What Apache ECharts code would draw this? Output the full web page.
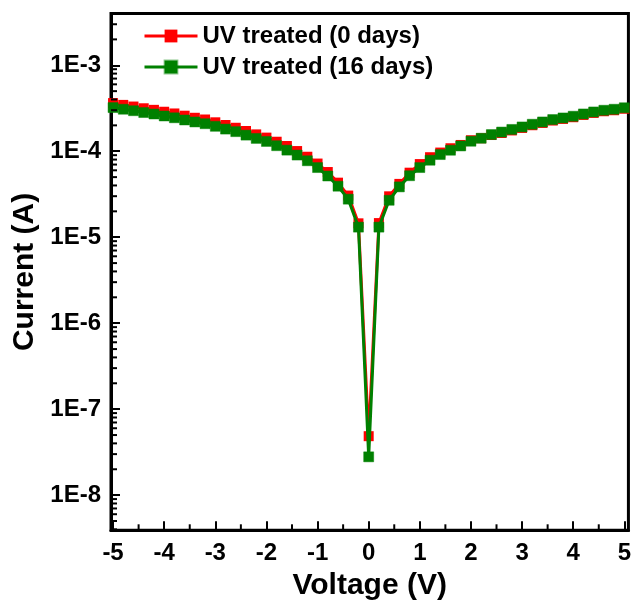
<!DOCTYPE html>
<html><head><meta charset="utf-8">
<script src="https://cdn.jsdelivr.net/npm/echarts@6/dist/echarts.min.js"></script>
<style>html,body{margin:0;padding:0;background:#fff}#c{width:634px;height:608px}</style>
</head><body><div id="c"></div>
<script>
const seriesNames = ['UV treated (0 days)', 'UV treated (16 days)'];
const voltage = [-5,-4.8,-4.6,-4.4,-4.2,-4,-3.8,-3.6,-3.4,-3.2,-3,-2.8,-2.6,-2.4,-2.2,-2,-1.8,-1.6,-1.4,-1.2,-1,-0.8,-0.6,-0.4,-0.2,0,0.2,0.4,0.6,0.8,1,1.2,1.4,1.6,1.8,2,2.2,2.4,2.6,2.8,3,3.2,3.4,3.6,3.8,4,4.2,4.4,4.6,4.8,5];
const current0 = [3.63e-4,3.46e-4,3.31e-4,3.16e-4,3.03e-4,2.88e-4,2.75e-4,2.59e-4,2.45e-4,2.34e-4,2.17e-4,2.02e-4,1.875e-4,1.72e-4,1.57e-4,1.44e-4,1.29e-4,1.15e-4,1.005e-4,8.63e-5,7.19e-5,5.73e-5,4.31e-5,3.05e-5,1.45e-5,
  4.85e-8,
  1.46e-5,2.99e-5,4.17e-5,5.63e-5,7.09e-5,8.52e-5,9.65e-5,1.083e-4,1.183e-4,1.342e-4,1.416e-4,1.544e-4,1.629e-4,1.746e-4,1.867e-4,2.007e-4,2.134e-4,2.276e-4,2.376e-4,2.487e-4,2.644e-4,2.79e-4,2.919e-4,2.998e-4,3.122e-4];
const current16 = [3.22e-4,3.08e-4,2.96e-4,2.82e-4,2.71e-4,2.57e-4,2.45e-4,2.31e-4,2.19e-4,2.09e-4,1.95e-4,1.81e-4,1.69e-4,1.54e-4,1.41e-4,1.30e-4,1.16e-4,1.03e-4,9.03e-5,7.75e-5,6.46e-5,5.15e-5,3.92e-5,2.77e-5,1.31e-5,
  2.79e-8,
  1.31e-5,2.69e-5,3.85e-5,5.19e-5,6.46e-5,7.86e-5,9.15e-5,1.027e-4,1.152e-4,1.307e-4,1.416e-4,1.564e-4,1.672e-4,1.793e-4,1.917e-4,2.061e-4,2.191e-4,2.337e-4,2.439e-4,2.553e-4,2.715e-4,2.864e-4,2.997e-4,3.078e-4,3.205e-4];
const xTicks = [-5,-4,-3,-2,-1,0,1,2,3,4,5];
const xMinorTicks = [-4.5,-3.5,-2.5,-1.5,-0.5,0.5,1.5,2.5,3.5,4.5];
const yTicks = [1e-8,1e-7,1e-6,1e-5,1e-4,1e-3];
const yMinorMult = [2,3,4,5,6,7,8,9];
const yMinorTicks = [];
[1e-9,1e-8,1e-7,1e-6,1e-5,1e-4,1e-3].forEach(d => yMinorMult.forEach(m => yMinorTicks.push(m * d)));

const FONT = 'Liberation Sans, Arial, sans-serif';
const chart = echarts.init(document.getElementById('c'), null, {renderer: 'canvas'});
const yFmt = v => '1E' + Math.round(Math.log10(v));
const X_MIN = -5.04, X_MAX = 5.08, Y_MIN = 3.9e-9, Y_MAX = 4e-3;

const option = {
  backgroundColor: '#fff',
  animation: false,
  grid: {left: 111, right: 3, top: 13.5, bottom: 77.7, containLabel: false,
         show: true, borderColor: '#000', borderWidth: 3, backgroundColor: 'transparent'},
  legend: {
    orient: 'vertical', left: 138, top: 19, itemWidth: 53, itemHeight: 16, itemGap: 7,
    lineStyle: {width: 3},
    textStyle: {fontFamily: FONT, fontWeight: 'bold', fontSize: 24, color: '#000', lineHeight: 24},
    data: seriesNames
  },
  xAxis: {type: 'value', min: X_MIN, max: X_MAX, position: 'bottom',
     name: 'Voltage (V)', nameLocation: 'middle', nameGap: 40,
     nameTextStyle: {fontFamily: FONT, fontWeight: 'bold', fontSize: 30, color: '#000'},
     axisLine: {show: true, onZero: false, lineStyle: {color: '#000', width: 3}},
     axisTick: {show: true, inside: true, length: 9, customValues: xTicks, lineStyle: {color: '#000', width: 2}},
     axisLabel: {show: true, customValues: xTicks, margin: 11, fontFamily: FONT, fontWeight: 'bold', fontSize: 24, color: '#000'},
     splitLine: {show: false}},
  yAxis: {type: 'log', logBase: 10, min: Y_MIN, max: Y_MAX, position: 'left',
     name: 'Current (A)', nameLocation: 'middle', nameGap: 64,
     nameTextStyle: {fontFamily: FONT, fontWeight: 'bold', fontSize: 30, color: '#000'},
     axisLine: {show: true, onZero: false, lineStyle: {color: '#000', width: 3}},
     axisTick: {show: true, inside: true, length: 9, customValues: yTicks, lineStyle: {color: '#000', width: 2}},
     axisLabel: {show: true, customValues: yTicks, formatter: yFmt, margin: 10, fontFamily: FONT, fontWeight: 'bold', fontSize: 24, color: '#000'},
     splitLine: {show: false}, minorTick: {show: false}},
  series: [
    {name: seriesNames[0], type: 'line',
     data: voltage.map((v, i) => [v, current0[i]]),
     symbol: 'rect', symbolSize: 10, showSymbol: true, showAllSymbol: true,
     lineStyle: {color: '#ff0000', width: 3}, itemStyle: {color: '#ff0000'}, z: 2},
    {name: seriesNames[1], type: 'line',
     data: voltage.map((v, i) => [v, current16[i]]),
     symbol: 'rect', symbolSize: 10, showSymbol: true, showAllSymbol: true,
     lineStyle: {color: '#008000', width: 3},
     itemStyle: {color: '#008000', borderColor: 'rgba(0,128,0,0.45)', borderWidth: 1}, z: 3}
  ]
};
chart.setOption(option);

// minor ticks, positioned through the axes' own scales
const xAxisPx = chart.convertToPixel({xAxisIndex: 0}, X_MIN);
const yAxisPx = chart.convertToPixel({yAxisIndex: 0}, Y_MIN);
const minorEls = [];
yMinorTicks.filter(v => v > Y_MIN && v < Y_MAX).forEach(v => {
  const y = chart.convertToPixel({yAxisIndex: 0}, v);
  minorEls.push({type: 'line', shape: {x1: xAxisPx, y1: y, x2: xAxisPx + 6, y2: y},
                 style: {stroke: '#000', lineWidth: 2}, silent: true, z: 10});
});
xMinorTicks.forEach(v => {
  const x = chart.convertToPixel({xAxisIndex: 0}, v);
  minorEls.push({type: 'line', shape: {x1: x, y1: yAxisPx, x2: x, y2: yAxisPx - 6},
                 style: {stroke: '#000', lineWidth: 2}, silent: true, z: 10});
});
chart.setOption({graphic: {elements: minorEls}});
</script></body></html>
